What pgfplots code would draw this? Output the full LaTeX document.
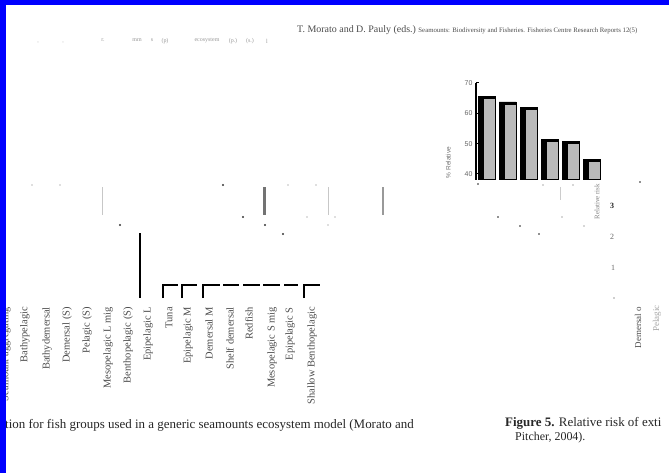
\documentclass[border=0pt]{standalone}
\usepackage{fontspec}
\setmainfont{Liberation Serif}
\setsansfont{Liberation Sans}
\usepackage{pgfplots}
\pgfplotsset{compat=1.18}
\begin{document}
\begin{tikzpicture}
\useasboundingbox (0,0) rectangle (669bp,473bp);
\fill[white] (0,0) rectangle (669bp,473bp);
% ---------- page overlay in image pixel coordinates ----------
\begin{axis}[at={(0bp,0bp)}, anchor=south west, scale only axis,
  width=669bp, height=473bp, xmin=0, xmax=669, ymin=0, ymax=473,
  y dir=reverse, hide axis, clip=false]
% header
\node[anchor=west, text=black!70, inner sep=0pt] at (axis cs:297,30)
  {\fontsize{10}{11}\selectfont T. Morato and D. Pauly (eds.)\ \fontsize{6.8}{7.5}\selectfont Seamounts: Biodiversity and Fisheries. Fisheries Centre Research Reports 12(5)};
% faint remains of text at top left
\node[text=black!30, font=\fontsize{6}{7}\selectfont] at (axis cs:38,43) {,};
\node[text=black!30, font=\fontsize{6}{7}\selectfont] at (axis cs:63,43) {,};
\node[text=black!40, font=\fontsize{6}{7}\selectfont] at (axis cs:103,40) {r.};
\node[text=black!40, font=\fontsize{6}{7}\selectfont] at (axis cs:137,40) {mm};
\node[text=black!40, font=\fontsize{6}{7}\selectfont] at (axis cs:152,40) {s};
\node[text=black!40, font=\fontsize{6}{7}\selectfont] at (axis cs:165,41) {(p)};
\node[text=black!40, font=\fontsize{6}{7}\selectfont] at (axis cs:207,40) {ecosystem};
\node[text=black!40, font=\fontsize{6}{7}\selectfont] at (axis cs:233,41) {(p.)};
\node[text=black!40, font=\fontsize{6}{7}\selectfont] at (axis cs:250,41) {(s.)};
\node[text=black!40, font=\fontsize{6}{7}\selectfont] at (axis cs:267,41) {l};
% faint grey strokes
\addplot[black!22, line width=1bp] coordinates {(102,187) (102,215)};
\addplot[black!55, line width=3bp] coordinates {(264,187) (264,215)};
\addplot[black!22, line width=1bp] coordinates {(328,187) (328,215)};
\addplot[black!40, line width=2.5bp] coordinates {(383,187) (383,215)};
\addplot[only marks, mark=*, mark size=0.8bp, black!70] coordinates {(120,225) (223,185) (243,217) (265,225) (283,234)};
\addplot[only marks, mark=*, mark size=0.6bp, black!20] coordinates {(32,185) (60,185) (288,185) (316,185) (307,217) (328,225) (335,217)};
% dendrogram
\addplot[black, line width=2bp] coordinates {(140,233) (140,298)};
\addplot[black, line width=2.3bp, line join=miter] coordinates {(163,298) (163,285) (178,285)};
\addplot[black, line width=2.3bp, line join=miter] coordinates {(182,298) (182,285) (197,285)};
\addplot[black, line width=2.3bp, line join=miter] coordinates {(203,298) (203,285) (220,285)};
\addplot[black, line width=2.3bp] coordinates {(223,285) (239,285)};
\addplot[black, line width=2.3bp] coordinates {(243,285) (260,285)};
\addplot[black, line width=2.3bp] coordinates {(263,285) (280,285)};
\addplot[black, line width=2.3bp] coordinates {(284,285) (298,285)};
\addplot[black, line width=2.3bp, line join=miter] coordinates {(304,298) (304,285) (320,285)};
% group labels
\node[rotate=90, anchor=east, inner sep=0pt, text=black!70, font=\fontsize{10.5}{11}\selectfont] at (axis cs:6,307) {Seamount aggregating};
\node[rotate=90, anchor=east, inner sep=0pt, text=black!70, font=\fontsize{10.5}{11}\selectfont] at (axis cs:25,307) {Bathypelagic};
\node[rotate=90, anchor=east, inner sep=0pt, text=black!70, font=\fontsize{10.5}{11}\selectfont] at (axis cs:47,307) {Bathydemersal};
\node[rotate=90, anchor=east, inner sep=0pt, text=black!70, font=\fontsize{10.5}{11}\selectfont] at (axis cs:67,307) {Demersal (S)};
\node[rotate=90, anchor=east, inner sep=0pt, text=black!70, font=\fontsize{10.5}{11}\selectfont] at (axis cs:87,307) {Pelagic (S)};
\node[rotate=90, anchor=east, inner sep=0pt, text=black!70, font=\fontsize{10.5}{11}\selectfont] at (axis cs:108,307) {Mesopelagic L mig};
\node[rotate=90, anchor=east, inner sep=0pt, text=black!70, font=\fontsize{10.5}{11}\selectfont] at (axis cs:128,307) {Benthopelagic (S)};
\node[rotate=90, anchor=east, inner sep=0pt, text=black!70, font=\fontsize{10.5}{11}\selectfont] at (axis cs:148,307) {Epipelagic L};
\node[rotate=90, anchor=east, inner sep=0pt, text=black!70, font=\fontsize{10.5}{11}\selectfont] at (axis cs:169,307) {Tuna};
\node[rotate=90, anchor=east, inner sep=0pt, text=black!70, font=\fontsize{10.5}{11}\selectfont] at (axis cs:188,307) {Epipelagic M};
\node[rotate=90, anchor=east, inner sep=0pt, text=black!70, font=\fontsize{10.5}{11}\selectfont] at (axis cs:209,307) {Demersal M};
\node[rotate=90, anchor=east, inner sep=0pt, text=black!70, font=\fontsize{10.5}{11}\selectfont] at (axis cs:230,307) {Shelf demersal};
\node[rotate=90, anchor=east, inner sep=0pt, text=black!70, font=\fontsize{10.5}{11}\selectfont] at (axis cs:249,307) {Redfish};
\node[rotate=90, anchor=east, inner sep=0pt, text=black!70, font=\fontsize{10.5}{11}\selectfont] at (axis cs:272,307) {Mesopelagic S mig};
\node[rotate=90, anchor=east, inner sep=0pt, text=black!70, font=\fontsize{10.5}{11}\selectfont] at (axis cs:290,307) {Epipelagic S};
\node[rotate=90, anchor=east, inner sep=0pt, text=black!70, font=\fontsize{10.5}{11}\selectfont] at (axis cs:312,307) {Shallow Benthopelagic};
% small marks under the bar chart
\addplot[only marks, mark=*, mark size=0.7bp, black!70] coordinates {(478,184) (498,217) (520,226) (539,234) (640,182)};
\addplot[only marks, mark=*, mark size=0.6bp, black!25] coordinates {(543,185) (573,185) (562,217) (584,226)};
\addplot[black!20, line width=0.6bp] coordinates {(560,187) (560,200)};
\node[rotate=90, anchor=east, inner sep=0pt, text=black!50, font=\fontsize{7}{8}\selectfont] at (axis cs:597,184) {Relative risk};
% partial axis of figure 5
\node[text=black!85, font=\fontsize{8}{9}\selectfont] at (axis cs:612,206) {\textbf{3}};
\node[text=black!60, font=\fontsize{8}{9}\selectfont] at (axis cs:612,237) {2};
\node[text=black!60, font=\fontsize{8}{9}\selectfont] at (axis cs:613,268) {1};
\addplot[only marks, mark=*, mark size=0.6bp, black!30] coordinates {(614,298)};
\node[rotate=90, anchor=east, inner sep=0pt, text=black!70, font=\fontsize{9}{10}\selectfont] at (axis cs:638,307) {Demersal o};
\node[rotate=90, anchor=east, inner sep=0pt, text=black!35, font=\fontsize{9}{10}\selectfont] at (axis cs:657,305) {Pelagic};
% captions
\node[anchor=west, inner sep=0pt, text=black!85, font=\fontsize{13}{14}\selectfont] at (axis cs:5,425)
  {tion for fish groups used in a generic seamounts ecosystem model (Morato and};
\node[anchor=west, inner sep=0pt, text=black!85, font=\fontsize{13}{14}\selectfont] at (axis cs:505,423)
  {\textbf{Figure 5.} Relative risk of exti};
\node[anchor=west, inner sep=0pt, text=black!85, font=\fontsize{12}{13}\selectfont] at (axis cs:515,438)
  {Pitcher, 2004).};
\end{axis}
% ---------- bar chart ----------
\begin{axis}[at={(476bp,293bp)}, anchor=south west, scale only axis,
  width=126bp, height=97bp, xmin=0.5, xmax=6.5, ymin=38, ymax=70,
  axis x line=none, axis y line*=left,
  y axis line style={-, line width=2bp, black},
  ytick={40,50,60,70}, tick align=inside, major tick length=3bp,
  ytick style={black, line width=1bp},
  /pgf/number format/assume math mode=true,
  yticklabel style={text=black!60, font=\sffamily\fontsize{7}{8}\selectfont},
  ylabel={\% Relative},
  every axis y label/.style={at={(rel axis cs:-0.22,0.18)}, rotate=90, anchor=center,
    text=black!55, font=\sffamily\fontsize{6.5}{7}\selectfont},
  ybar]
\addplot[ybar, bar width=17bp, bar shift=0bp, fill=black, draw=black]
  coordinates {(1,65.7) (2,63.8) (3,61.9) (4,51.3) (5,50.7) (6,44.7)};
\addplot[ybar, bar width=12bp, bar shift=2.5bp, fill=black!27, draw=black, line width=1bp]
  coordinates {(1,64.9) (2,62.9) (3,61.3) (4,50.6) (5,50.1) (6,44.2)};
\end{axis}
% blue frame edges
\fill[blue] (0,0) rectangle (6bp,473bp);
\fill[blue] (0,468bp) rectangle (669bp,473bp);
\end{tikzpicture}
\end{document}
